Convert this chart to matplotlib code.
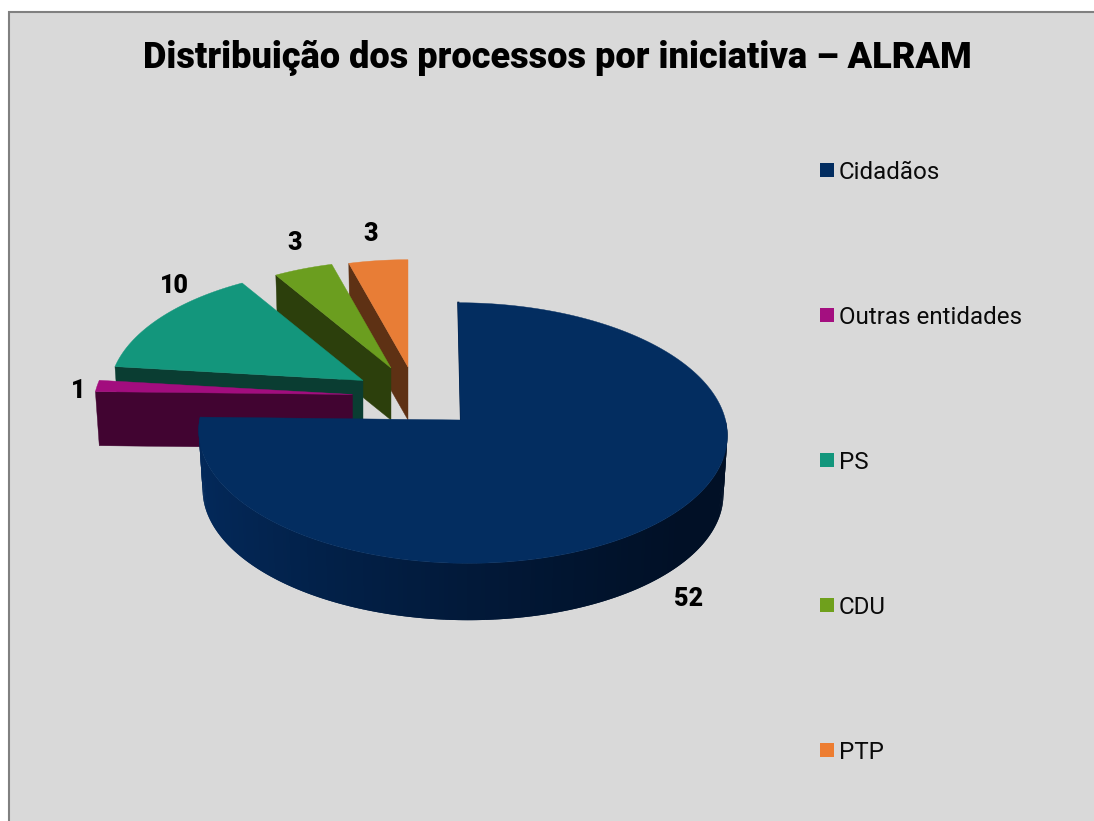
import numpy as np
import matplotlib
matplotlib.use('Agg')
import matplotlib.pyplot as plt
from matplotlib.patches import Rectangle
from matplotlib.colors import to_rgb

# data
labels = ['Cidadãos', 'Outras entidades', 'PS', 'CDU', 'PTP']
values = [52, 1, 10, 3, 3]

# styles
top_colors = ['#032d60', '#a20d7e', '#13967c', '#6b9e1f', '#e87d36']
wall_colors = ['#021b3e', '#410431', '#0a3d32', '#2c3f0c', '#5e3114']
legend_colors = ['#032d60', '#a40f80', '#13967c', '#6fa01c', '#ed7d31']

# where each exploded slice sits on the picture (pixels)
apex_x = [460.5, 352.5, 363, 391, 408]
apex_y = [420, 394.5, 380.5, 368, 367]
scale = [1, 0.98, 0.96, 0.915, 0.915]
depth = [59, 54, 52, 52, 53]
shear = [0.04, 0, 0, 0, 0]
shift = [2, 0, 0, 0, 0]
label_pos = [(78, 391), (174, 286), (295, 243), (371, 234)]
main_label_pos = (689, 599)
legend_y = [170, 315, 460, 605, 750]

RX, RY, PERSP = 263, 129, 0.1

fig = plt.figure(figsize=(10.94, 8.21), dpi=100)
ax = fig.add_axes([0, 0, 1, 1])
ax.set_xlim(0, 1094)
ax.set_ylim(821, 0)
ax.axis('off')
plt.rcParams['font.family'] = ['Roboto', 'DejaVu Sans']


def project(i, t, s=1.0, dy=0.0):
    # t in degrees, goes through a simple perspective squash
    rad = np.radians(t)
    w = 1 + PERSP * np.sin(rad)
    y = -RY * np.sin(rad) / w * scale[i] * s
    x = RX * np.cos(rad) / w * scale[i] * s + shear[i] * y + shift[i]
    return apex_x[i] + x, apex_y[i] + y + dy


# chart area
ax.add_patch(Rectangle((8.5, 12.5), 1200, 1000, facecolor='#d9d9d9',
                       edgecolor='#808080', linewidth=1.5, zorder=0))

# slice angles, clockwise from 12 o'clock
total = sum(values)
sweep = np.array(values) / total * 360
ends = 90 - np.cumsum(sweep)
starts = ends + sweep

# back slices first, PTP is the furthest one
for i in range(len(values) - 1, 0, -1):
    arc = np.linspace(starts[i], ends[i], 40)
    ox, oy = project(i, arc)
    # cut face on the left side of the slice
    bx, by = project(i, starts[i], s=0.985, dy=depth[i])
    tx, ty = project(i, starts[i])
    ax.fill([tx, apex_x[i], apex_x[i], bx],
            [ty, apex_y[i], apex_y[i] + depth[i], by],
            color=wall_colors[i], lw=0.3, zorder=2)
    ax.fill(np.r_[apex_x[i], ox], np.r_[apex_y[i], oy],
            color=top_colors[i], lw=0.3, zorder=2)

# big slice: shaded rim made of small strips, each one overlaps the next
arc = np.linspace(ends[0], 0, 200)
dark = np.array(to_rgb('#011026'))
light = np.array(to_rgb('#03295a'))
for k in range(len(arc) - 1):
    seg = arc[k:k + 3]
    xa, ya = project(0, seg)
    xd, yd = project(0, seg, s=0.985, dy=depth[0])
    f = np.clip((xa[0] - 200) / 480, 0, 1) ** 0.8
    ax.fill(np.r_[xa, xd[::-1]], np.r_[ya, yd[::-1]],
            facecolor=light + (dark - light) * f, edgecolor='none', lw=0, zorder=3)

arc = np.linspace(starts[0], ends[0], 300)
ox, oy = project(0, arc)
ax.fill(np.r_[apex_x[0], ox], np.r_[apex_y[0], oy],
        color=top_colors[0], lw=0.3, zorder=4)
tx, ty = project(0, starts[0])
ax.plot([tx + 0.5, apex_x[0] + 0.5], [ty, apex_y[0]], color=wall_colors[0], lw=1.5, zorder=3.5)

# value labels
for v, (x, y) in zip(values[1:], label_pos):
    ax.text(x, y, str(v), ha='center', va='center', fontsize=18,
            fontweight='black', color='black', zorder=6)
ax.text(main_label_pos[0], main_label_pos[1], str(values[0]), ha='center', va='center',
        fontsize=18, fontweight='black', color='black', zorder=6)

# legend
for name, c, y in zip(labels, legend_colors, legend_y):
    ax.add_patch(Rectangle((820, y - 7), 14, 14, facecolor=c, edgecolor='none', zorder=5))
    ax.text(839, y, name, ha='left', va='center_baseline', fontsize=17.4, color='#0a0a0a', zorder=5)

ax.text(557, 58.5, 'Distribuição dos processos por iniciativa – ALRAM', ha='center', va='center',
        fontsize=26, fontweight='black', color='black', zorder=5)

fig.savefig('out.png', dpi=100, facecolor='white')
